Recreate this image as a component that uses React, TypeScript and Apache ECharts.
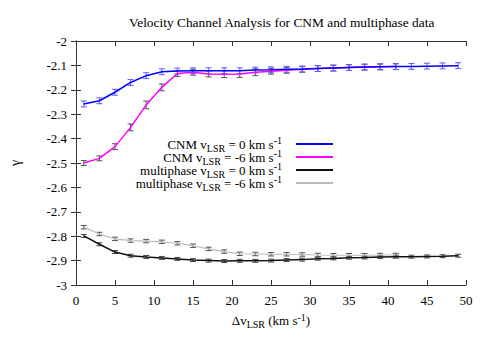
import React, { useEffect, useRef } from 'react';
import * as echarts from 'echarts';

const xs = [1, 3, 5, 7, 9, 11, 13, 15, 17, 19, 21, 23, 25, 27, 29, 31, 33, 35, 37, 39, 41, 43, 45, 47, 49];

const cnm0 = [-2.258, -2.245, -2.210, -2.170, -2.142, -2.126, -2.123, -2.122, -2.122, -2.122, -2.122, -2.119, -2.118, -2.116, -2.115, -2.113, -2.111, -2.109, -2.107, -2.106, -2.105, -2.104, -2.103, -2.102, -2.101];
const cnm0Err = [0.012, 0.012, 0.012, 0.012, 0.012, 0.012, 0.012, 0.012, 0.012, 0.012, 0.012, 0.012, 0.012, 0.012, 0.012, 0.012, 0.012, 0.012, 0.012, 0.012, 0.012, 0.012, 0.012, 0.012, 0.012];

const cnm6 = [-2.500, -2.481, -2.433, -2.354, -2.262, -2.190, -2.133, -2.128, -2.135, -2.136, -2.135, -2.128, -2.124, -2.120, -2.116, -2.113, -2.111, -2.109, -2.107, -2.106, -2.105];
const cnm6Err = [0.010, 0.010, 0.012, 0.014, 0.016, 0.014, 0.012, 0.012, 0.012, 0.014, 0.014, 0.014, 0.012, 0.012, 0.012, 0.012, 0.012, 0.012, 0.012, 0.012, 0.012];

const multi0 = [-2.799, -2.833, -2.865, -2.880, -2.885, -2.889, -2.893, -2.898, -2.900, -2.902, -2.901, -2.901, -2.900, -2.898, -2.896, -2.892, -2.891, -2.888, -2.887, -2.885, -2.884, -2.884, -2.883, -2.882, -2.880];
const multi0Err = [0.006, 0.006, 0.006, 0.006, 0.006, 0.006, 0.006, 0.006, 0.006, 0.006, 0.006, 0.006, 0.006, 0.006, 0.006, 0.006, 0.006, 0.006, 0.006, 0.006, 0.006, 0.006, 0.006, 0.006, 0.006];

const multi6 = [-2.763, -2.791, -2.811, -2.818, -2.820, -2.823, -2.829, -2.839, -2.852, -2.863, -2.872, -2.873, -2.874, -2.874, -2.875, -2.877, -2.878, -2.878, -2.878, -2.877, -2.877];
const multi6Err = [0.007, 0.007, 0.007, 0.007, 0.007, 0.007, 0.007, 0.007, 0.007, 0.007, 0.007, 0.007, 0.007, 0.007, 0.007, 0.007, 0.007, 0.007, 0.007, 0.007, 0.007];

const xTicks = [0, 5, 10, 15, 20, 25, 30, 35, 40, 45, 50];
const yTicks = [-3, -2.9, -2.8, -2.7, -2.6, -2.5, -2.4, -2.3, -2.2, -2.1, -2];

const titleText = 'Velocity Channel Analysis for CNM and multiphase data';
const legendLabels: Record<string, string> = {
  cnm0: '{n|CNM v}{sub|LSR}{n| = 0 km s}{sup|-1}',
  cnm6: '{n|CNM v}{sub|LSR}{n| = -6 km s}{sup|-1}',
  multi0: '{n|multiphase v}{sub|LSR}{n| = 0 km s}{sup|-1}',
  multi6: '{n|multiphase v}{sub|LSR}{n| = -6 km s}{sup|-1}',
};

const FONT = "Liberation Serif";

const rich = {
  n: { fontFamily: FONT, fontSize: 13, color: '#000', lineHeight: 11 },
  sub: { fontFamily: FONT, fontSize: 10, color: '#000', lineHeight: 11, padding: [8, 0, 0, 0] },
  sup: { fontFamily: FONT, fontSize: 10, color: '#000', lineHeight: 11, padding: [0, 9, 7, 0] },
};

const tickRich = { t: { fontFamily: FONT, fontSize: 13, color: '#000' } };

function lineSeries(name: string, ys: number[], color: string, width: number, z: number) {
  return {
    name,
    type: 'line',
    data: ys.map((y, i) => [xs[i], y]),
    showSymbol: false,
    symbol: 'none',
    lineStyle: { color, width },
    itemStyle: { color },
    z,
  };
}

function errSeries(ys: number[], errs: number[], color: string, z: number) {
  return {
    type: 'custom',
    silent: true,
    encode: { x: 0, y: 1 },
    data: ys.map((y, i) => [xs[i], y, errs[i]]),
    renderItem: (_p: any, api: any) => {
      const x = api.value(0);
      const y = api.value(1);
      const e = api.value(2);
      const top = api.coord([x, y + e]);
      const bot = api.coord([x, y - e]);
      const w = 3;
      const style = { stroke: color, lineWidth: 1 };
      return {
        type: 'group',
        children: [
          { type: 'line', shape: { x1: top[0], y1: top[1], x2: bot[0], y2: bot[1] }, style },
          { type: 'line', shape: { x1: top[0] - w, y1: top[1], x2: top[0] + w, y2: top[1] }, style },
          { type: 'line', shape: { x1: bot[0] - w, y1: bot[1], x2: bot[0] + w, y2: bot[1] }, style },
        ],
      };
    },
    z,
  };
}

function legendFor(name: string, top: number) {
  return {
    data: [name],
    orient: 'vertical',
    align: 'right',
    right: 158,
    top,
    padding: 0,
    icon: 'rect',
    itemWidth: 37,
    itemHeight: 2,
    selectedMode: false,
    formatter: (n: string) => legendLabels[n],
    textStyle: { fontFamily: FONT, rich },
  };
}

export default function App() {
  const ref = useRef<HTMLDivElement>(null);
  useEffect(() => {
    if (!ref.current) return;
    const chart = echarts.init(ref.current, undefined, { renderer: 'svg' });
    const axisLine = { show: true, lineStyle: { color: '#333', width: 1 } };
    const tickStyle = { show: true, inside: true, length: 5, lineStyle: { color: '#333' } };
    chart.setOption({
      animation: false,
      backgroundColor: '#fff',
      textStyle: { fontFamily: FONT },
      title: {
        text: titleText,
        left: 124,
        top: 11,
        textStyle: { fontFamily: FONT, fontSize: 13.4, fontWeight: 'normal', color: '#000' },
      },
      legend: [
        legendFor('cnm0', 135),
        legendFor('cnm6', 148),
        legendFor('multi0', 161),
        legendFor('multi6', 174),
      ],
      grid: { left: 67, right: 25, top: 41, bottom: 58 },
      xAxis: [
        {
          type: 'value',
          min: 0,
          max: 50,
          interval: 5,
          position: 'bottom',
          axisLine,
          axisTick: tickStyle,
          splitLine: { show: false },
          axisLabel: {
            margin: 9,
            fontFamily: FONT,
            fontSize: 13,
            color: '#000',
            rich: tickRich,
            formatter: (v: number) => (xTicks.includes(v) ? '{t|' + String(v) + '}' : ''),
          },
          name: '{n|Δv}{sub|LSR}{n| (km s}{sup2|-1}{n|)}',
          nameLocation: 'middle',
          nameGap: 27,
          nameTextStyle: {
            fontFamily: FONT,
            rich: {
              ...rich,
              sup2: { fontFamily: FONT, fontSize: 10, color: '#000', lineHeight: 11, padding: [0, 0, 7, 0] },
            },
          },
        },
        {
          type: 'value',
          min: 0,
          max: 50,
          interval: 5,
          position: 'top',
          axisLine,
          axisTick: tickStyle,
          axisLabel: { show: false },
          splitLine: { show: false },
        },
      ],
      yAxis: [
        {
          type: 'value',
          min: -3,
          max: -2,
          interval: 0.1,
          position: 'left',
          axisLine,
          axisTick: tickStyle,
          splitLine: { show: false },
          axisLabel: {
            margin: 9,
            fontFamily: FONT,
            fontSize: 13,
            color: '#000',
            rich: tickRich,
            formatter: (v: number) => {
              const r = Math.round(v * 10) / 10;
              return yTicks.includes(r) ? '{t|' + String(r) + '}' : '';
            },
          },
          name: 'γ',
          nameLocation: 'middle',
          nameRotate: 90,
          nameGap: 54,
          nameTextStyle: { fontFamily: FONT, fontSize: 14, color: '#000' },
        },
        {
          type: 'value',
          min: -3,
          max: -2,
          interval: 0.1,
          position: 'right',
          axisLine,
          axisTick: tickStyle,
          axisLabel: { show: false },
          splitLine: { show: false },
        },
      ],
      series: [
        errSeries(multi6, multi6Err, '#555', 2),
        errSeries(multi0, multi0Err, '#444', 2),
        errSeries(cnm6, cnm6Err, '#555', 2),
        errSeries(cnm0, cnm0Err, '#5a5aff', 2),
        lineSeries('multi6', multi6, '#bbbbbb', 1.2, 3),
        lineSeries('multi0', multi0, '#111111', 1.5, 3),
        lineSeries('cnm6', cnm6, '#ff00ff', 1.5, 3),
        lineSeries('cnm0', cnm0, '#0000ff', 1.5, 4),
      ],
    });
    return () => chart.dispose();
  }, []);
  return <div ref={ref} style={{ width: 491, height: 343, position: 'absolute', left: 0, top: 0 }} />;
}
